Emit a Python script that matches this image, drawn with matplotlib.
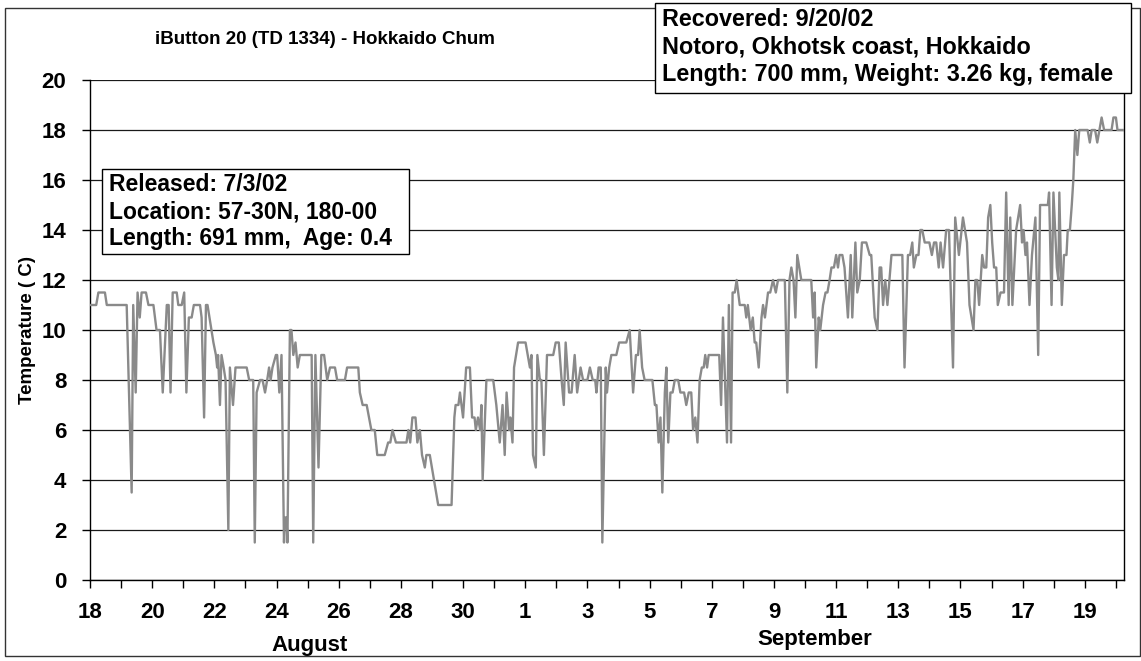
import matplotlib.pyplot as plt
from matplotlib.patches import Rectangle
import pandas as pd

plt.rcParams['font.family'] = ['Liberation Sans', 'DejaVu Sans']
plt.rcParams['font.weight'] = 'bold'

# days since Aug 18 2002 00:00, temperature (C)
days = [0, 0.2, 0.27, 0.48, 0.54, 1.18, 1.34, 1.39, 1.47, 1.53, 1.6, 1.66, 1.8, 1.88, 2.04,
        2.14, 2.25, 2.34, 2.47, 2.53, 2.59, 2.66, 2.79, 2.84, 2.95, 3.03, 3.1, 3.18, 3.27,
        3.34, 3.54, 3.59, 3.67, 3.73, 3.78, 3.97, 4.05, 4.09, 4.12, 4.18, 4.23, 4.3, 4.36,
        4.45, 4.5, 4.6, 4.68, 5.04, 5.12, 5.25, 5.3, 5.36, 5.47, 5.55, 5.63, 5.7, 5.76,
        5.81, 5.87, 5.98, 6.02, 6.09, 6.16, 6.24, 6.27, 6.32, 6.35, 6.43, 6.48, 6.54, 6.61,
        6.68, 6.75, 7.13, 7.18, 7.25, 7.35, 7.44, 7.53, 7.63, 7.72, 7.88, 7.95, 8.2, 8.27,
        8.63, 8.68, 8.77, 8.9, 9.05, 9.16, 9.24, 9.48, 9.59, 9.66, 9.73, 9.84, 10.18, 10.24,
        10.3, 10.37, 10.47, 10.53, 10.61, 10.68, 10.77, 10.82, 10.93, 11.2, 11.63, 11.72,
        11.76, 11.85, 11.9, 12.0, 12.1, 12.22, 12.29, 12.37, 12.41, 12.48, 12.55, 12.59,
        12.63, 12.75, 12.97, 13.07, 13.18, 13.27, 13.34, 13.4, 13.48, 13.52, 13.59, 13.64,
        13.77, 14.01, 14.15, 14.2, 14.25, 14.34, 14.39, 14.47, 14.52, 14.6, 14.7, 14.9,
        14.98, 15.08, 15.17, 15.24, 15.3, 15.41, 15.49, 15.59, 15.67, 15.78, 15.86, 16.0,
        16.08, 16.17, 16.25, 16.29, 16.36, 16.43, 16.48, 16.59, 16.63, 16.7, 16.77, 16.93,
        17.02, 17.25, 17.36, 17.47, 17.56, 17.63, 17.68, 17.76, 17.84, 18.09, 18.17, 18.22,
        18.29, 18.35, 18.41, 18.49, 18.54, 18.6, 18.67, 18.74, 18.81, 18.92, 18.99, 19.11,
        19.18, 19.26, 19.34, 19.4, 19.47, 19.54, 19.61, 19.68, 19.74, 19.79, 19.85, 19.9,
        20.24, 20.3, 20.36, 20.49, 20.55, 20.62, 20.67, 20.74, 20.8, 20.9, 21.06, 21.11,
        21.16, 21.25, 21.32, 21.38, 21.43, 21.51, 21.6, 21.65, 21.71, 21.81, 21.88, 21.97,
        22.06, 22.13, 22.35, 22.43, 22.5, 22.56, 22.63, 22.69, 22.75, 22.88, 23.2, 23.26,
        23.31, 23.36, 23.44, 23.49, 23.58, 23.66, 23.72, 23.79, 23.85, 23.93, 24.0, 24.06,
        24.11, 24.2, 24.27, 24.38, 24.47, 24.52, 24.62, 24.68, 24.76, 24.83, 24.97, 25.08,
        25.13, 25.24, 25.33, 25.4, 25.45, 25.51, 25.58, 25.65, 25.78, 26.13, 26.2, 26.31,
        26.38, 26.45, 26.5, 26.58, 26.65, 26.71, 26.77, 26.85, 27.0, 27.08, 27.15, 27.22,
        27.3, 27.36, 27.44, 27.54, 27.63, 27.76, 27.83, 27.95, 28.08, 28.21, 28.29, 28.42,
        28.48, 28.54, 28.6, 28.7, 28.76, 28.83, 28.89, 28.96, 29.02, 29.08, 29.15, 29.2,
        29.29, 29.4, 29.47, 29.55, 29.6, 29.67, 29.79, 29.92, 29.98, 30.03, 30.09, 30.14,
        30.22, 30.3, 30.41, 30.5, 30.56, 30.81, 30.85, 30.93, 30.99, 31.1, 31.15, 31.18,
        31.26, 31.33, 31.41, 31.45, 31.52, 31.58, 31.63, 31.69, 31.76, 31.82, 32.09, 32.16,
        32.22, 32.33, 32.4, 32.47, 32.54, 32.62, 32.86, 32.92, 33.0, 33.05, 33.26]
temps = [11, 11, 11.5, 11.5, 11, 11, 3.5, 11, 7.5, 11.5, 10.5, 11.5, 11.5, 11, 11,
         10, 10, 7.5, 11, 11, 7.5, 11.5, 11.5, 11, 11, 11.5, 7.5, 10.5, 10.5,
         11, 11, 10.5, 6.5, 11, 11, 9.5, 9, 8.5, 9, 7, 9, 8.5, 8,
         2, 8.5, 7, 8.5, 8.5, 8, 8, 1.5, 7.5, 8, 8, 7.5, 8, 8.5,
         8, 8.5, 9, 9, 7.5, 9, 1.5, 2.5, 2.5, 1.5, 10, 10, 9, 9.5,
         8.5, 9, 9, 1.5, 9, 4.5, 9, 9, 8, 8.5, 8.5, 8, 8, 8.5,
         8.5, 7.5, 7, 7, 6, 6, 5, 5, 5.5, 5.5, 6, 5.5, 5.5, 6,
         5.5, 6.5, 6.5, 5.5, 6, 5, 4.5, 5, 5, 3, 3, 6.5,
         7, 7, 7.5, 6.5, 8.5, 8.5, 6.5, 6.5, 6, 6.5, 6, 7,
         4, 8, 8, 7, 5.5, 7, 5, 7.5, 6, 6.5, 5.5, 8.5,
         9.5, 9.5, 8.5, 9, 5, 4.5, 9, 8, 8, 5, 9, 9,
         9.5, 9.5, 8, 7, 9.5, 7.5, 7.5, 9, 7.5, 8.5, 8, 8,
         8.5, 8, 8, 7.5, 8.5, 8.5, 1.5, 8.5, 7.5, 8.5, 9, 9,
         9.5, 9.5, 10, 7.5, 9, 9, 10, 8.5, 8, 8, 7, 7,
         5.5, 6.5, 3.5, 7.5, 8.5, 5.5, 7.5, 7.5, 8, 8, 7.5, 7.5,
         7, 7.5, 7.5, 6, 6.5, 5.5, 8, 8.5, 8.5, 9, 8.5, 9,
         9, 7, 10.5, 5.5, 11, 5.5, 11.5, 11.5, 12, 11, 11, 10.5,
         11, 10, 10.5, 9.5, 9.5, 8.5, 10.5, 11, 10.5, 11.5, 11.5, 12,
         11.5, 12, 12, 7.5, 12, 12.5, 12, 10.5, 13, 12, 12, 10.5,
         11.5, 8.5, 10.5, 10, 11, 11.5, 11.5, 12, 12.5, 12.5, 13, 12.5,
         13, 13, 12.5, 10.5, 13, 10.5, 13.5, 11.5, 12, 13.5, 13.5, 13,
         13, 10.5, 10, 12.5, 12.5, 11, 12, 11, 13, 13, 8.5, 13,
         13, 13.5, 12.5, 13, 13, 14, 14, 13.5, 13.5, 13, 13.5, 13.5,
         12.5, 13.5, 12.5, 14, 14, 8.5, 14.5, 13, 14.5, 13.5, 11, 10,
         12, 12, 11, 13, 12.5, 12.5, 14.5, 15, 13.5, 12.5, 12.5, 11,
         11.5, 11.5, 15.5, 11, 14.5, 11, 14, 15, 13.5, 14, 13, 13.5,
         11, 13, 14.5, 9, 15, 15, 15.5, 11, 15.5, 12.5, 12, 15.5,
         11, 13, 13, 14, 14, 15, 16, 18, 17, 18, 18, 17.5,
         18, 18, 17.5, 18, 18.5, 18, 18, 18.5, 18.5, 18, 18]

start = pd.Timestamp('2002-08-18')
tick_days = list(range(0, 34))
tick_labels = [str((start + pd.Timedelta(days=d)).day) if d % 2 == 0 else ''
               for d in tick_days]

W, H = 1141, 661
fig = plt.figure(figsize=(W / 100, H / 100), dpi=100)
ax = fig.add_axes([90 / W, 1 - 580 / H, (1124 - 90) / W, 500 / H])

ax.plot(days, temps, color='#8a8a8a', lw=1.7, zorder=3)
ax.set_xlim(0, 33.26)
ax.set_ylim(0, 20)
ax.set_yticks(range(0, 21, 2))
ax.yaxis.grid(True, color='#1a1a1a', lw=0.9)
ax.set_axisbelow(True)
ax.set_xticks(tick_days)
ax.set_xticklabels(tick_labels)
ax.tick_params(axis='both', direction='out', length=6, width=1, color='black',
               labelsize=16)
ax.tick_params(axis='x', pad=10)
ax.tick_params(axis='y', pad=11)
ax.spines['top'].set_visible(False)
for s in ['left', 'bottom', 'right']:
    ax.spines[s].set_color('black')
    ax.spines[s].set_linewidth(1)

# titles and axis texts
fig.text(325 / W, 1 - 40 / H, 'iButton 20 (TD 1334) - Hokkaido Chum',
         ha='center', va='center', fontsize=13.5)
fig.text(28 / W, 1 - 330 / H, 'Temperature ( C)', rotation=90,
         ha='center', va='center', fontsize=13.5)
fig.text(310 / W, 1 - 646 / H, 'August', ha='center', va='center', fontsize=16)
fig.text(815 / W, 1 - 640 / H, 'September', ha='center', va='center', fontsize=16)

# outer frame
fig.patches.append(Rectangle((5 / W, 1 - 656 / H), (1140 - 5) / W, (656 - 8) / H,
                             transform=fig.transFigure, fill=False,
                             ec='#333333', lw=1, zorder=0))

# info boxes
fig.patches.append(Rectangle((655 / W, 1 - 93 / H), (1131 - 655) / W, 90 / H,
                             transform=fig.transFigure, fc='white',
                             ec='black', lw=1, zorder=5))
rec_lines = ['Recovered: 9/20/02', 'Notoro, Okhotsk coast, Hokkaido',
             'Length: 700 mm, Weight: 3.26 kg, female']
for i, t in enumerate(rec_lines):
    fig.text(662 / W, 1 - (19 + 28 * i) / H, t, ha='left', va='center',
             fontsize=16.8, zorder=6)

fig.patches.append(Rectangle((102 / W, 1 - 254 / H), (409 - 102) / W, 85 / H,
                             transform=fig.transFigure, fc='white',
                             ec='black', lw=1, zorder=5))
rel_lines = ['Released: 7/3/02', 'Location: 57-30N, 180-00',
             'Length: 691 mm,  Age: 0.4']
for i, t in enumerate(rel_lines):
    fig.text(109 / W, 1 - (184 + 27.5 * i) / H, t, ha='left', va='center',
             fontsize=16.5, zorder=6)

fig.savefig('out.png', dpi=100)
